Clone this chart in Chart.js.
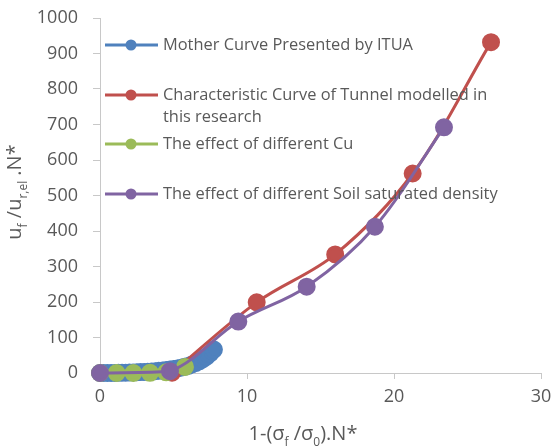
<!DOCTYPE html>
<html>
<head>
<meta charset="utf-8">
<script src="https://cdn.jsdelivr.net/npm/chart.js@4.4.0/dist/chart.umd.min.js"></script>
<style>
  html, body { margin: 0; padding: 0; background: #fff; }
</style>
</head>
<body>
<canvas id="chart" width="553" height="446"></canvas>
<script>
var seriesNames = [
  'Mother Curve Presented by ITUA',
  'Characteristic Curve of Tunnel modelled in this research',
  'The effect of different Cu',
  'The effect of different Soil saturated density'
];

// Mother curve (ITUA)
var motherX = [0, 0.25, 0.5, 0.75, 1, 1.25, 1.5, 1.75, 2, 2.25, 2.5, 2.75, 3, 3.25, 3.5, 3.75, 4, 4.25, 4.5, 4.75, 5, 5.25, 5.5, 5.75, 6, 6.25, 6.5, 6.75, 7, 7.25, 7.5, 7.75];
var motherY = [0, 0, 0.1, 0.2, 0.3, 0.5, 0.7, 1, 1.3, 1.6, 2, 2.5, 3, 3.6, 4.3, 5, 6, 7, 8.2, 9.6, 11, 13, 15, 17.5, 20, 24, 28, 33, 39, 46, 55, 66];

// Characteristic curve of tunnel
var tunnelX = [4.9, 10.66, 16.0, 21.27, 26.6];
var tunnelY = [1, 199, 334, 562, 932];

// effect of Cu
var cuX = [0, 1.13, 2.27, 3.4, 4.5, 5.78];
var cuY = [0, 0, 0, 0.5, 2, 17];

// effect of soil saturated density
var densX = [0, 4.76, 9.41, 14.06, 18.7, 23.4];
var densY = [0, 5, 145, 243, 412, 692];

var xTicks = [0, 10, 20, 30];
var yMax = 1000;

var colors = ['#4F81BD', '#C0504D', '#9BBB59', '#8064A2'];

function toPoints(xs, ys) {
  return xs.map(function (x, i) { return { x: x, y: ys[i] }; });
}

var allX = [motherX, tunnelX, cuX, densX];
var allY = [motherY, tunnelY, cuY, densY];

var datasets = seriesNames.map(function (name, i) {
  return {
    label: name,
    data: toPoints(allX[i], allY[i]),
    borderColor: colors[i],
    backgroundColor: colors[i],
    pointBackgroundColor: colors[i],
    pointBorderColor: colors[i],
    pointRadius: 7.5,
    pointHoverRadius: 7.5,
    borderWidth: 3,
    showLine: true,
    tension: 0.35,
    clip: false,
    order: 4 - i
  };
});

var textColor = '#595959';
var axisColor = '#c8c8c8';

// draw text pieces with subscripts
function drawRich(ctx, parts, x, y, size, align) {
  var big = size + 'px "Open Sans"';
  var small = Math.round(size * 0.62) + 'px "Open Sans"';
  var total = 0;
  parts.forEach(function (p) {
    ctx.font = p.sub ? small : big;
    total += ctx.measureText(p.t).width;
  });
  var cx = align === 'center' ? x - total / 2 : x;
  parts.forEach(function (p) {
    ctx.font = p.sub ? small : big;
    ctx.fillText(p.t, cx, p.sub ? y + size * 0.28 : y);
    cx += ctx.measureText(p.t).width;
  });
}

var titlesPlugin = {
  id: 'titles',
  afterDraw: function (chart) {
    var ctx = chart.ctx;
    ctx.save();
    ctx.fillStyle = textColor;
    ctx.textBaseline = 'alphabetic';
    ctx.textAlign = 'left';
    drawRich(ctx, [
      { t: '1-(σ' }, { t: 'f', sub: true }, { t: ' /σ' }, { t: '0', sub: true }, { t: ').N*' }
    ], 303, 440, 20, 'center');
    ctx.translate(21, 192);
    ctx.rotate(-Math.PI / 2);
    drawRich(ctx, [
      { t: 'u' }, { t: 'f', sub: true }, { t: ' /u' }, { t: 'r,el', sub: true }, { t: ' .N*' }
    ], 0, 0, 20, 'center');
    ctx.restore();
  }
};

// legend drawn inside the plot area
var legendPlugin = {
  id: 'innerLegend',
  afterDraw: function (chart) {
    var ctx = chart.ctx;
    var rows = [[45], [95, 117], [144], [194]];
    ctx.save();
    ctx.font = '16.4px "Open Sans"';
    ctx.textBaseline = 'middle';
    ctx.textAlign = 'left';
    chart.data.datasets.forEach(function (ds, i) {
      var y = rows[i][0];
      ctx.strokeStyle = ds.borderColor;
      ctx.lineWidth = 3;
      ctx.beginPath();
      ctx.moveTo(105, y);
      ctx.lineTo(158, y);
      ctx.stroke();
      ctx.fillStyle = ds.borderColor;
      ctx.beginPath();
      ctx.arc(131, y, 5.5, 0, Math.PI * 2);
      ctx.fill();
      ctx.fillStyle = textColor;
      var lines = [ds.label];
      if (rows[i].length > 1) {
        var words = ds.label.split(' ');
        lines = [words.slice(0, -2).join(' '), words.slice(-2).join(' ')];
      }
      lines.forEach(function (ln, j) {
        ctx.fillText(ln, 163, rows[i][j]);
      });
    });
    ctx.restore();
  }
};

var ctx = document.getElementById('chart').getContext('2d');

var chart = new Chart(ctx, {
  type: 'scatter',
  data: { datasets: datasets },
  plugins: [titlesPlugin, legendPlugin],
  options: {
    responsive: false,
    animation: false,
    layout: { padding: { top: 18, right: 12, left: 0, bottom: 0 } },
    plugins: {
      legend: { display: false },
      tooltip: { enabled: false }
    },
    scales: {
      x: {
        type: 'linear',
        min: 0,
        max: 30,
        afterBuildTicks: function (scale) {
          scale.ticks = xTicks.map(function (v) { return { value: v }; });
        },
        afterFit: function (scale) {
          scale.height = 73;
          scale.paddingLeft = 0;
          scale.paddingRight = 0;
        },
        grid: { drawOnChartArea: false, color: axisColor, tickLength: 6, lineWidth: 1 },
        border: { color: axisColor, width: 1 },
        ticks: { color: textColor, font: { family: 'Open Sans', size: 18 }, padding: 7, maxRotation: 0,
                 callback: function (v) { return String(v); } }
      },
      y: {
        min: 0,
        max: yMax,
        ticks: { stepSize: 100, color: textColor, font: { family: 'Open Sans', size: 18 }, padding: 15,
                 callback: function (v) { return String(v); } },
        afterFit: function (scale) {
          scale.width = 100;
          scale.paddingTop = 0;
          scale.paddingBottom = 0;
        },
        grid: { drawOnChartArea: false, color: axisColor, tickLength: 7, lineWidth: 1 },
        border: { color: axisColor, width: 1 }
      }
    }
  }
});
</script>
</body>
</html>
